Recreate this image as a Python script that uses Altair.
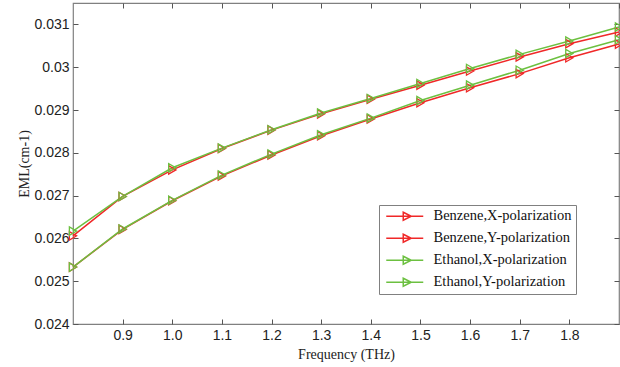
import altair as alt
import pandas as pd

freq = [0.8, 0.9, 1.0, 1.1, 1.2, 1.3, 1.4, 1.5, 1.6, 1.7, 1.8, 1.9]
benzene_x = [0.02606, 0.02698, 0.02760, 0.02810, 0.02853, 0.02891, 0.02925, 0.02958, 0.02991, 0.03024, 0.03055, 0.03082]
benzene_y = [0.02533, 0.02621, 0.02688, 0.02746, 0.02795, 0.02840, 0.02879, 0.02917, 0.02952, 0.02985, 0.03022, 0.03054]
ethanol_x = [0.02617, 0.02698, 0.02765, 0.02811, 0.02854, 0.02893, 0.02927, 0.02962, 0.02997, 0.03030, 0.03061, 0.03094]
ethanol_y = [0.02533, 0.02622, 0.02689, 0.02748, 0.02797, 0.02842, 0.02881, 0.02922, 0.02958, 0.02993, 0.03032, 0.03064]

series_names = ["Benzene,X-polarization", "Benzene,Y-polarization",
                "Ethanol,X-polarization", "Ethanol,Y-polarization"]
series_values = [benzene_x, benzene_y, ethanol_x, ethanol_y]
series_colors = ["#f02828", "#f02828", "#6cc040", "#6cc040"]

x_ticks = [0.9, 1.0, 1.1, 1.2, 1.3, 1.4, 1.5, 1.6, 1.7, 1.8]
y_ticks = [0.024, 0.025, 0.026, 0.027, 0.028, 0.029, 0.030, 0.031]

rows = []
for name, vals in zip(series_names, series_values):
    for f, v in zip(freq, vals):
        rows.append({"f": f, "v": v, "s": name})
df = pd.DataFrame(rows)

xscale = alt.Scale(domain=[0.8, 1.9], nice=False, zero=False)
yscale = alt.Scale(domain=[0.024, 0.0315], nice=False, zero=False)

tick_col = "#555555"
label_font = "Liberation Sans"
title_font = "Liberation Serif"

x_bottom = alt.Axis(orient="bottom", values=x_ticks, title="Frequency (THz)", offset=-5,
                    domain=False, grid=False, tickSize=5, tickColor=tick_col, labelPadding=4,
                    labelFont=label_font, labelFontSize=14, labelColor="#222222",
                    titleFont=title_font, titleFontSize=14, titleFontWeight="normal",
                    titleColor="#222222", titlePadding=5, labelFlush=False)
y_left = alt.Axis(orient="left", values=y_ticks, title="EML(cm-1)", offset=-5, format=".3~f",
                  domain=False, grid=False, tickSize=5, tickColor=tick_col, labelPadding=4,
                  labelFont=label_font, labelFontSize=14, labelColor="#222222",
                  titleFont=title_font, titleFontSize=14, titleFontWeight="normal",
                  titleColor="#222222", titlePadding=2, labelFlush=False)
x_top = alt.Axis(orient="top", values=x_ticks + [1.9], title="", labels=False, offset=-5,
                 domain=False, grid=False, tickSize=5, tickColor=tick_col)
y_right = alt.Axis(orient="right", values=y_ticks, title="", labels=False, offset=-5,
                   domain=False, grid=False, tickSize=5, tickColor=tick_col)

color = alt.Color(
    "s:N",
    scale=alt.Scale(domain=series_names, range=series_colors),
    sort=series_names,
    legend=alt.Legend(
        title=None, orient="none", legendX=306, legendY=202,
        symbolType="M-0.8,0L6.6,0M2.6,-0.8L4.2,0L2.6,0.8Z",
        symbolSize=100, symbolStrokeWidth=1.5, symbolFillColor="transparent",
        labelFont=title_font, labelFontSize=14.5, labelColor="#111111", labelOffset=36,
        padding=4, rowPadding=6, strokeColor="#808080", fillColor="white",
        labelLimit=400,
    ),
)

lines = alt.Chart(df).mark_line(
    strokeWidth=1.5,
    point=alt.OverlayMarkDef(filled=False, shape="triangle-right", size=70, strokeWidth=1.3),
).encode(
    x=alt.X("f:Q", scale=xscale, axis=x_bottom),
    y=alt.Y("v:Q", scale=yscale, axis=y_left),
    color=color,
)

frame = alt.Chart(df).mark_point(opacity=0).encode(
    x=alt.X("f:Q", scale=xscale, axis=x_top),
    y=alt.Y("v:Q", scale=yscale, axis=y_right),
)

chart = alt.layer(lines, frame).resolve_axis(x="independent", y="independent").properties(
    width=546, height=321,
    background="white",
    autosize=alt.AutoSizeParams(type="none"),
    padding={"left": 73, "top": 3, "right": 1, "bottom": 43},
).configure_view(stroke="#808080", strokeWidth=1.2)

chart.save("out.html", embed_options={"renderer": "svg", "actions": False})
